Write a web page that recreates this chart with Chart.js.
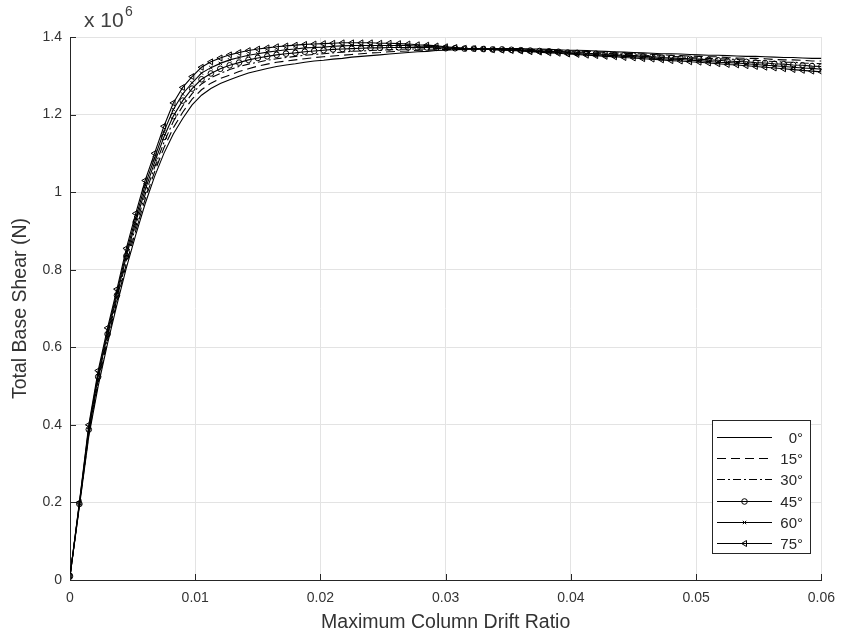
<!DOCTYPE html>
<html>
<head>
<meta charset="utf-8">
<title>Pushover curves</title>
<script src="https://cdn.jsdelivr.net/npm/chart.js@4.4.1/dist/chart.umd.min.js"></script>
<style>
    body { margin: 0; background: #fff; }
    #wrap { width: 845px; height: 639px; }
</style>
</head>
<body>
<div id="wrap"><canvas id="pushoverChart" width="845" height="639"></canvas></div>
<script>
// drift steps shared by all the load angles
var drift = [
    0, 0.00075, 0.0015, 0.00225, 0.003, 0.00375, 0.0045, 0.00525, 0.006, 0.00675,
    0.0075, 0.00825, 0.009, 0.00975, 0.0105, 0.01125, 0.012, 0.01275, 0.0135, 0.01425,
    0.015, 0.01575, 0.0165, 0.01725, 0.018, 0.01875, 0.0195, 0.02025, 0.021, 0.02175,
    0.0225, 0.02325, 0.024, 0.02475, 0.0255, 0.02625, 0.027, 0.02775, 0.0285, 0.02925,
    0.03, 0.03075, 0.0315, 0.03225, 0.033, 0.03375, 0.0345, 0.03525, 0.036, 0.03675,
    0.0375, 0.03825, 0.039, 0.03975, 0.0405, 0.04125, 0.042, 0.04275, 0.0435, 0.04425,
    0.045, 0.04575, 0.0465, 0.04725, 0.048, 0.04875, 0.0495, 0.05025, 0.051, 0.05175,
    0.0525, 0.05325, 0.054, 0.05475, 0.0555, 0.05625, 0.057, 0.05775, 0.0585, 0.05925,
    0.06
];

// base shear in x 10^6 N
var shear0 = [
    0.01, 0.19, 0.37, 0.50, 0.61, 0.71, 0.805, 0.89, 0.97, 1.04,
    1.10, 1.15, 1.19, 1.225, 1.25, 1.267, 1.28, 1.29, 1.299, 1.307,
    1.313, 1.319, 1.324, 1.328, 1.331, 1.335, 1.338, 1.340, 1.343, 1.345,
    1.348, 1.350, 1.352, 1.354, 1.356, 1.358, 1.360, 1.362, 1.363, 1.365,
    1.366, 1.367, 1.368, 1.369, 1.369, 1.370, 1.370, 1.370, 1.370, 1.369,
    1.369, 1.368, 1.367, 1.366, 1.366, 1.365, 1.364, 1.363, 1.362, 1.361,
    1.360, 1.359, 1.358, 1.357, 1.357, 1.356, 1.355, 1.354, 1.353, 1.353,
    1.352, 1.351, 1.350, 1.350, 1.349, 1.348, 1.347, 1.347, 1.346, 1.345,
    1.345
];
var shear15 = [
    0.01, 0.192, 0.376, 0.508, 0.618, 0.718, 0.815, 0.901, 0.982, 1.052,
    1.114, 1.166, 1.206, 1.240, 1.264, 1.281, 1.293, 1.302, 1.311, 1.318,
    1.325, 1.330, 1.335, 1.338, 1.341, 1.344, 1.347, 1.349, 1.351, 1.353,
    1.355, 1.357, 1.359, 1.360, 1.362, 1.363, 1.364, 1.366, 1.366, 1.367,
    1.368, 1.368, 1.369, 1.369, 1.369, 1.369, 1.369, 1.369, 1.369, 1.368,
    1.367, 1.366, 1.365, 1.364, 1.364, 1.363, 1.362, 1.360, 1.359, 1.358,
    1.357, 1.356, 1.355, 1.354, 1.353, 1.352, 1.351, 1.350, 1.349, 1.349,
    1.347, 1.346, 1.345, 1.345, 1.344, 1.342, 1.341, 1.341, 1.340, 1.338,
    1.338
];
var shear30 = [
    0.01, 0.194, 0.382, 0.516, 0.626, 0.726, 0.825, 0.912, 0.994, 1.064,
    1.128, 1.182, 1.222, 1.254, 1.279, 1.295, 1.306, 1.316, 1.324, 1.330,
    1.335, 1.340, 1.344, 1.347, 1.350, 1.353, 1.355, 1.357, 1.359, 1.361,
    1.363, 1.364, 1.365, 1.366, 1.367, 1.368, 1.369, 1.369, 1.369, 1.370,
    1.370, 1.369, 1.369, 1.369, 1.369, 1.369, 1.368, 1.368, 1.368, 1.366,
    1.366, 1.364, 1.363, 1.362, 1.362, 1.360, 1.359, 1.358, 1.357, 1.355,
    1.354, 1.353, 1.352, 1.351, 1.350, 1.349, 1.347, 1.346, 1.345, 1.344,
    1.343, 1.342, 1.340, 1.340, 1.338, 1.337, 1.335, 1.335, 1.333, 1.332,
    1.331
];
var shear45 = [
    0.01, 0.196, 0.388, 0.524, 0.634, 0.734, 0.835, 0.923, 1.006, 1.076,
    1.142, 1.196, 1.236, 1.267, 1.291, 1.306, 1.318, 1.327, 1.334, 1.341,
    1.346, 1.350, 1.354, 1.357, 1.359, 1.362, 1.364, 1.366, 1.368, 1.369,
    1.370, 1.371, 1.372, 1.372, 1.373, 1.373, 1.373, 1.373, 1.373, 1.372,
    1.371, 1.371, 1.370, 1.370, 1.369, 1.368, 1.368, 1.367, 1.366, 1.365,
    1.364, 1.363, 1.362, 1.360, 1.359, 1.358, 1.357, 1.355, 1.354, 1.353,
    1.352, 1.350, 1.349, 1.347, 1.346, 1.345, 1.344, 1.343, 1.341, 1.340,
    1.338, 1.337, 1.336, 1.334, 1.333, 1.331, 1.330, 1.328, 1.327, 1.325,
    1.324
];
var shear60 = [
    0.01, 0.198, 0.394, 0.532, 0.642, 0.742, 0.845, 0.934, 1.018, 1.088,
    1.156, 1.213, 1.253, 1.282, 1.307, 1.321, 1.332, 1.341, 1.347, 1.353,
    1.357, 1.361, 1.364, 1.367, 1.369, 1.372, 1.373, 1.374, 1.376, 1.377,
    1.378, 1.378, 1.378, 1.378, 1.378, 1.378, 1.378, 1.376, 1.376, 1.375,
    1.373, 1.372, 1.370, 1.370, 1.369, 1.368, 1.367, 1.366, 1.365, 1.363,
    1.363, 1.361, 1.360, 1.358, 1.357, 1.355, 1.354, 1.353, 1.352, 1.350,
    1.349, 1.347, 1.346, 1.344, 1.343, 1.342, 1.340, 1.339, 1.337, 1.335,
    1.334, 1.333, 1.331, 1.329, 1.327, 1.326, 1.324, 1.322, 1.320, 1.319,
    1.317
];
var shear75 = [
    0.01, 0.20, 0.40, 0.54, 0.65, 0.75, 0.855, 0.945, 1.03, 1.10,
    1.17, 1.23, 1.27, 1.298, 1.322, 1.336, 1.346, 1.354, 1.360, 1.365,
    1.369, 1.372, 1.375, 1.377, 1.379, 1.381, 1.382, 1.383, 1.384, 1.385,
    1.385, 1.385, 1.385, 1.384, 1.384, 1.383, 1.382, 1.380, 1.379, 1.377,
    1.375, 1.373, 1.371, 1.370, 1.369, 1.367, 1.366, 1.365, 1.364, 1.362,
    1.361, 1.359, 1.358, 1.356, 1.355, 1.353, 1.352, 1.350, 1.349, 1.347,
    1.346, 1.344, 1.343, 1.341, 1.339, 1.338, 1.336, 1.335, 1.333, 1.331,
    1.329, 1.328, 1.326, 1.324, 1.322, 1.320, 1.318, 1.316, 1.314, 1.312,
    1.310
];

var angles = ['0°', '15°', '30°', '45°', '60°', '75°'];

var INK = '#262626';
var FAMILY = 'Liberation Sans, Arial, sans-serif';
var TICK_FONT = { family: FAMILY, size: 14 };
var LABEL_FONT = { family: FAMILY, size: 19.5 };

function toPoints(ys) {
    return drift.map(function (d, i) {
        return { x: d, y: ys[i] };
    });
}

function curve(label, ys, extra) {
    var ds = {
        label: label,
        data: toPoints(ys),
        borderColor: '#000',
        borderWidth: 1.1,
        backgroundColor: 'rgba(0,0,0,0)',
        pointRadius: 0,
        pointBorderColor: '#000',
        pointBorderWidth: 1,
        pointBackgroundColor: 'rgba(0,0,0,0)',
        tension: 0,
        fill: false
    };
    for (var k in extra) ds[k] = extra[k];
    return ds;
}

var datasets = [
    curve(angles[0], shear0, {}),
    curve(angles[1], shear15, { borderDash: [9, 5] }),
    curve(angles[2], shear30, { borderDash: [8, 3, 2, 3] }),
    curve(angles[3], shear45, { pointStyle: 'circle', pointRadius: 2.8 }),
    curve(angles[4], shear60, { pointStyle: 'crossRot', pointRadius: 2.4 }),
    curve(angles[5], shear75, { pointStyle: 'triangle', pointRadius: 3.4, pointRotation: -90 })
];

// small marker shapes for the legend box
function marker(ctx, style, x, y) {
    ctx.beginPath();
    if (style === 'circle') {
        ctx.arc(x, y, 2.8, 0, Math.PI * 2);
    } else if (style === 'crossRot') {
        ctx.moveTo(x - 1.7, y - 1.7); ctx.lineTo(x + 1.7, y + 1.7);
        ctx.moveTo(x + 1.7, y - 1.7); ctx.lineTo(x - 1.7, y + 1.7);
    } else if (style === 'triangle') {
        ctx.moveTo(x - 3, y); ctx.lineTo(x + 2, y - 3); ctx.lineTo(x + 2, y + 3); ctx.closePath();
    }
    ctx.stroke();
}

var legendBox = {
    id: 'legendBox',
    afterDatasetsDraw: function (chart) {
        var ctx = chart.ctx;
        var bx = 712, by = 420, bw = 98, bh = 133;
        ctx.save();
        ctx.fillStyle = '#fff';
        ctx.fillRect(bx, by, bw, bh);
        ctx.strokeStyle = INK;
        ctx.lineWidth = 1;
        ctx.strokeRect(bx + 0.5, by + 0.5, bw, bh);
        ctx.font = '15px ' + FAMILY;
        ctx.textAlign = 'right';
        ctx.textBaseline = 'middle';
        chart.data.datasets.forEach(function (ds, i) {
            var y = Math.round(by + 17 + i * 21.2) + 0.5;
            ctx.strokeStyle = '#000';
            ctx.lineWidth = 1.1;
            ctx.setLineDash(ds.borderDash || []);
            ctx.beginPath();
            ctx.moveTo(717, y);
            ctx.lineTo(772, y);
            ctx.stroke();
            ctx.setLineDash([]);
            ctx.lineWidth = 1;
            if (ds.pointRadius > 0) marker(ctx, ds.pointStyle, 744.5, y);
            ctx.fillStyle = INK;
            ctx.fillText(ds.label, 803, y + 1);
        });
        ctx.restore();
    }
};

// inward tick marks + the x 10^6 multiplier
var axisExtras = {
    id: 'axisExtras',
    afterDraw: function (chart) {
        var ctx = chart.ctx;
        var a = chart.chartArea;
        var xs = chart.scales.x, ys = chart.scales.y;
        ctx.save();
        ctx.strokeStyle = INK;
        ctx.lineWidth = 1;
        ctx.beginPath();
        ys.ticks.forEach(function (t) {
            var y = Math.round(ys.getPixelForValue(t.value)) + 0.5;
            ctx.moveTo(a.left, y);
            ctx.lineTo(a.left + 6, y);
        });
        xs.ticks.forEach(function (t) {
            var x = Math.round(xs.getPixelForValue(t.value)) + 0.5;
            ctx.moveTo(x, a.bottom);
            ctx.lineTo(x, a.bottom - 6);
        });
        ctx.stroke();

        ctx.fillStyle = '#404040';
        ctx.textBaseline = 'alphabetic';
        ctx.font = '21px ' + FAMILY;
        ctx.fillText('x 10', 84, 27);
        ctx.font = '14px ' + FAMILY;
        ctx.fillText('6', 125, 16);
        ctx.restore();
    }
};

function fmt(v) {
    return String(Number(v.toFixed(2)));
}

var chartCanvas = document.getElementById('pushoverChart').getContext('2d');
var pushoverChart = new Chart(chartCanvas, {
    type: 'line',
    data: { datasets: datasets },
    options: {
        responsive: false,
        animation: false,
        layout: { padding: { top: 37, right: 22, bottom: 5, left: 0 } },
        plugins: {
            legend: { display: false },
            tooltip: { enabled: false }
        },
        scales: {
            x: {
                type: 'linear',
                min: 0,
                max: 0.06,
                ticks: { stepSize: 0.01, color: '#333', font: TICK_FONT, padding: 10, callback: fmt, maxRotation: 0 },
                grid: { color: '#e3e3e3', drawTicks: false },
                border: { color: INK, width: 1 },
                title: {
                    display: true,
                    text: 'Maximum Column Drift Ratio',
                    color: '#333',
                    font: LABEL_FONT,
                    padding: { top: 4, bottom: 0 }
                },
                afterFit: function (scale) { scale.height = 54; }
            },
            y: {
                min: 0,
                max: 1.4,
                ticks: { stepSize: 0.2, color: '#333', font: TICK_FONT, padding: 8, callback: fmt },
                grid: { color: '#e3e3e3', drawTicks: false },
                border: { color: INK, width: 1 },
                title: {
                    display: true,
                    text: 'Total Base Shear (N)',
                    color: '#333',
                    font: LABEL_FONT,
                    padding: { top: 9, bottom: 0 }
                },
                afterFit: function (scale) { scale.width = 70; }
            }
        }
    },
    plugins: [legendBox, axisExtras]
});
</script>
</body>
</html>
